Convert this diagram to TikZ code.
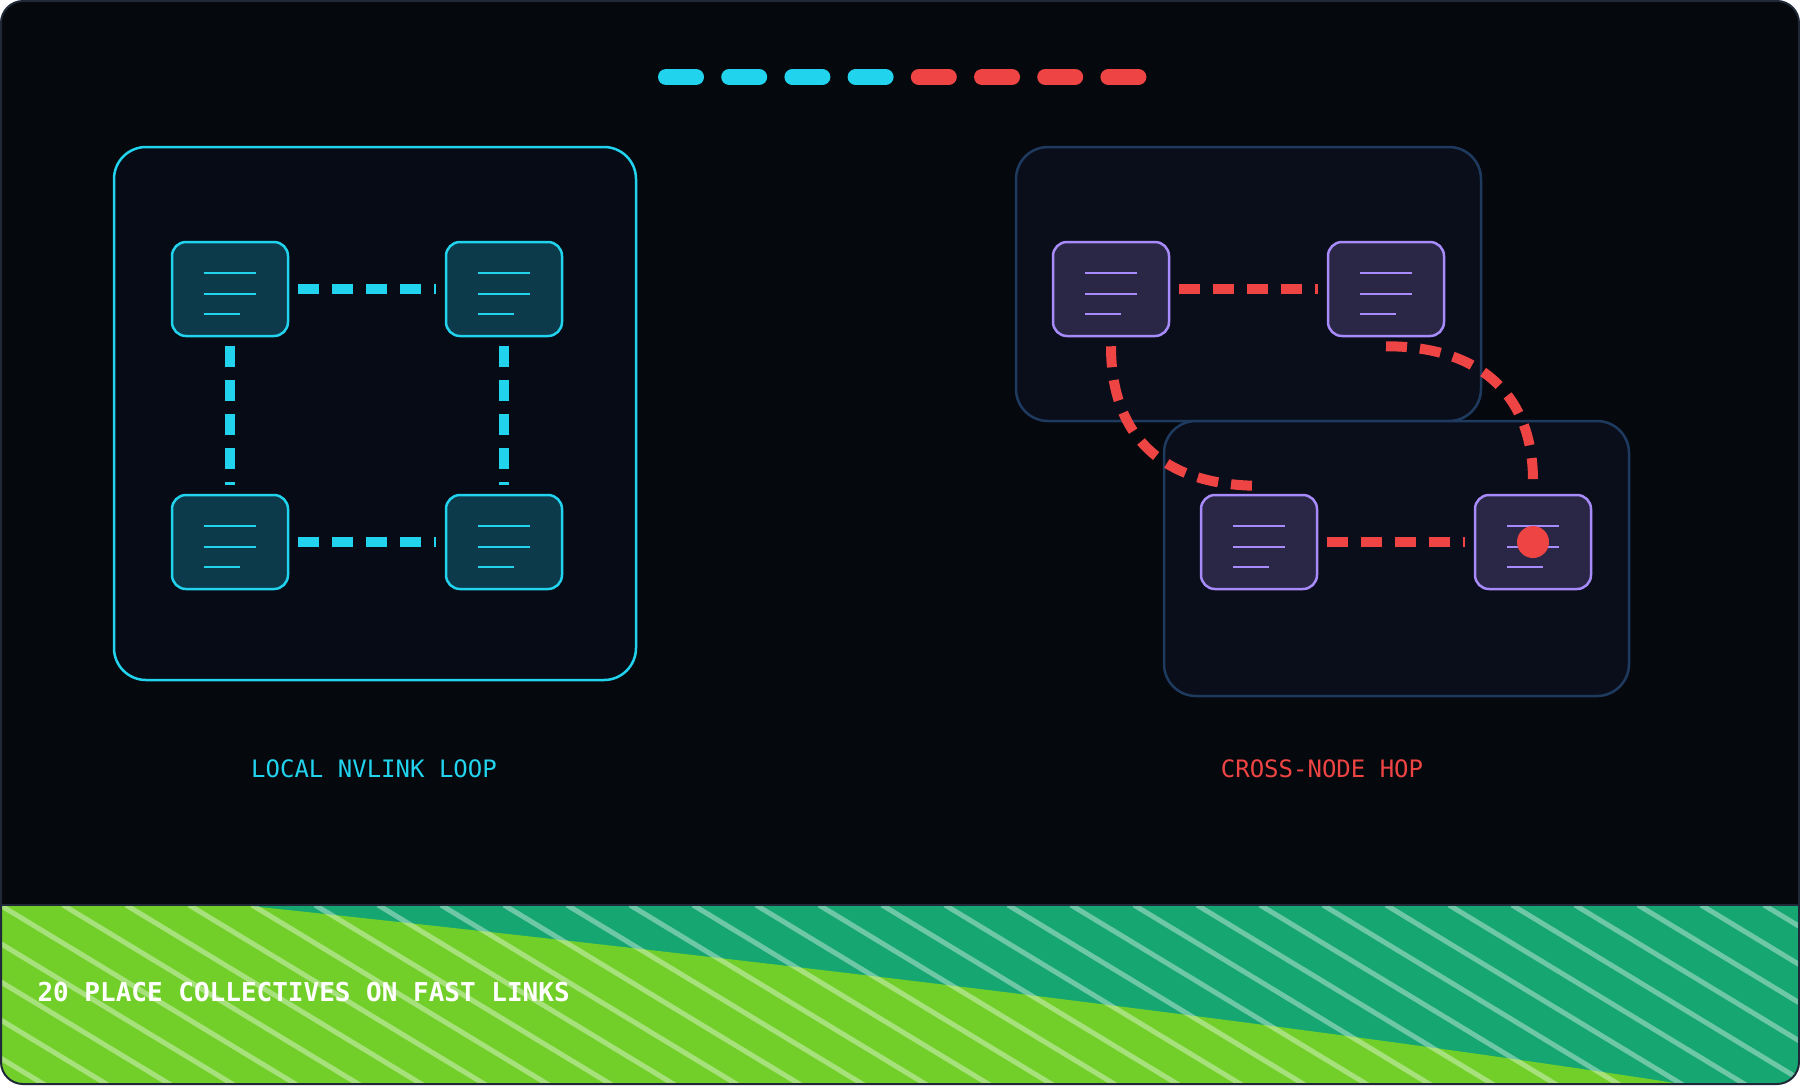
\documentclass[tikz,border=0pt]{standalone}
\usepackage{fontspec}
\setmonofont{DejaVu Sans Mono}
\usetikzlibrary{calc}
\definecolor{bgdark}{HTML}{05080D}
\definecolor{framegrey}{HTML}{1F2937}
\definecolor{cyanline}{HTML}{22D3EE}
\definecolor{redline}{HTML}{EF4444}
\definecolor{boxdark}{HTML}{060B16}
\definecolor{nodedark}{HTML}{0A0E1A}
\definecolor{nodeedge}{HTML}{1E3A5F}
\definecolor{gpucyan}{HTML}{0C3A4A}
\definecolor{gpuviolet}{HTML}{2A2746}
\definecolor{violetline}{HTML}{A78BFA}
\definecolor{bandgreen}{HTML}{72CF2A}
\definecolor{bandteal}{HTML}{16A672}

\tikzset{
    gpu/.style={draw, line width=2.5pt, rounded corners=14pt, minimum width=116pt, minimum height=94pt, inner sep=0pt},
    link/.style={line width=10pt, dash pattern=on 21pt off 13pt, shorten >=9pt, shorten <=9pt},
    pill/.style={line width=16pt, line cap=round},
}

\begin{document}
\begin{tikzpicture}[x=1pt, y=-1pt, every node/.style={font=\ttfamily}]
    \useasboundingbox (0,0) rectangle (1800,1085);
    \fill[bgdark, rounded corners=22pt] (1,1) rectangle (1799,1084);

    % bottom band
    \begin{scope}
        \clip[rounded corners=22pt] (1,1) rectangle (1799,1084);
        \fill[bandteal] (0,905) rectangle (1800,1085);
        \fill[bandgreen] (0,905) -- (241,905) .. controls (900,975) and (1400,1040) .. (1688,1085) -- (0,1085) -- cycle;
        \clip (0,905) rectangle (1800,1085);
        \foreach \i in {-6,...,30}
            \draw[white, opacity=0.38, line width=5pt] (\i*63,905) -- (\i*63+297,1085);
    \end{scope}
    \draw[framegrey, line width=2pt] (1,905) -- (1799,905);
    \draw[framegrey, line width=2pt, rounded corners=22pt] (1,1) rectangle (1799,1084);

    % legend
    \foreach \k in {0,...,3}
        \draw[pill, cyanline] (666+\k*63.2,77) -- (696+\k*63.2,77);
    \foreach \k in {4,...,7}
        \draw[pill, redline] (666+\k*63.2,77) -- (696+\k*63.2,77);

    % cluster boxes
    \draw[cyanline, fill=boxdark, line width=2.5pt, rounded corners=32pt] (114,147) rectangle (636,680);
    \draw[nodeedge, fill=nodedark, line width=2.5pt, rounded corners=32pt] (1016,147) rectangle (1481,421);
    \draw[nodeedge, fill=nodedark, line width=2.5pt, rounded corners=32pt] (1164,421) rectangle (1629,696);

    % local gpus
    \node[gpu, draw=cyanline, fill=gpucyan] (lA) at (230,289) {};
    \node[gpu, draw=cyanline, fill=gpucyan] (lB) at (504,289) {};
    \node[gpu, draw=cyanline, fill=gpucyan] (lC) at (230,542) {};
    \node[gpu, draw=cyanline, fill=gpucyan] (lD) at (504,542) {};

    % remote gpus
    \node[gpu, draw=violetline, fill=gpuviolet] (rA) at (1111,289) {};
    \node[gpu, draw=violetline, fill=gpuviolet] (rB) at (1386,289) {};
    \node[gpu, draw=violetline, fill=gpuviolet] (rC) at (1259,542) {};
    \node[gpu, draw=violetline, fill=gpuviolet] (rD) at (1533,542) {};

    \foreach \g in {lA,lB,lC,lD} {
        \draw[cyanline, line width=2.5pt] ($(\g)+(-26,-16)$) -- ($(\g)+(26,-16)$);
        \draw[cyanline, line width=2.5pt] ($(\g)+(-26,5)$) -- ($(\g)+(26,5)$);
        \draw[cyanline, line width=2.5pt] ($(\g)+(-26,25)$) -- ($(\g)+(10,25)$);
    }
    \foreach \g in {rA,rB,rC,rD} {
        \draw[violetline, line width=2.5pt] ($(\g)+(-26,-16)$) -- ($(\g)+(26,-16)$);
        \draw[violetline, line width=2.5pt] ($(\g)+(-26,5)$) -- ($(\g)+(26,5)$);
        \draw[violetline, line width=2.5pt] ($(\g)+(-26,25)$) -- ($(\g)+(10,25)$);
    }

    % links
    \draw[link, cyanline] (lA) -- (lB);
    \draw[link, cyanline] (lC) -- (lD);
    \draw[link, cyanline] (lA) -- (lC);
    \draw[link, cyanline] (lB) -- (lD);
    \draw[link, redline] (rA) -- (rB);
    \draw[link, redline] (rC) -- (rD);

    \coordinate (hopA) at ($(rA.south)+(0,9)$);
    \coordinate (hopB) at ($(rC.north)+(0,-8)$);
    \coordinate (hopC) at ($(rB.south)+(0,9)$);
    \coordinate (hopD) at ($(rD.north)+(0,-13)$);
    \draw[redline, line width=10pt, dash pattern=on 21pt off 13pt] (hopA) .. controls ($(hopA)+(0,100)$) and ($(hopB)+(-85,0)$) .. (hopB);
    \draw[redline, line width=10pt, dash pattern=on 21pt off 13pt] (hopC) .. controls ($(hopC)+(95,0)$) and ($(hopD)+(0,-85)$) .. (hopD);

    \fill[redline] (rD) circle (16pt);

    % labels
    \node[cyanline, font=\ttfamily\fontsize{24}{28}\selectfont] (localLbl) at (374,769) {LOCAL NVLINK LOOP};
    \node[redline, font=\ttfamily\fontsize{24}{28}\selectfont] (crossLbl) at (1322,769) {CROSS-NODE HOP};
    \node[white, anchor=west, font=\ttfamily\bfseries\fontsize{26}{30}\selectfont] (caption) at (34,992) {20 PLACE COLLECTIVES ON FAST LINKS};
\end{tikzpicture}
\end{document}
